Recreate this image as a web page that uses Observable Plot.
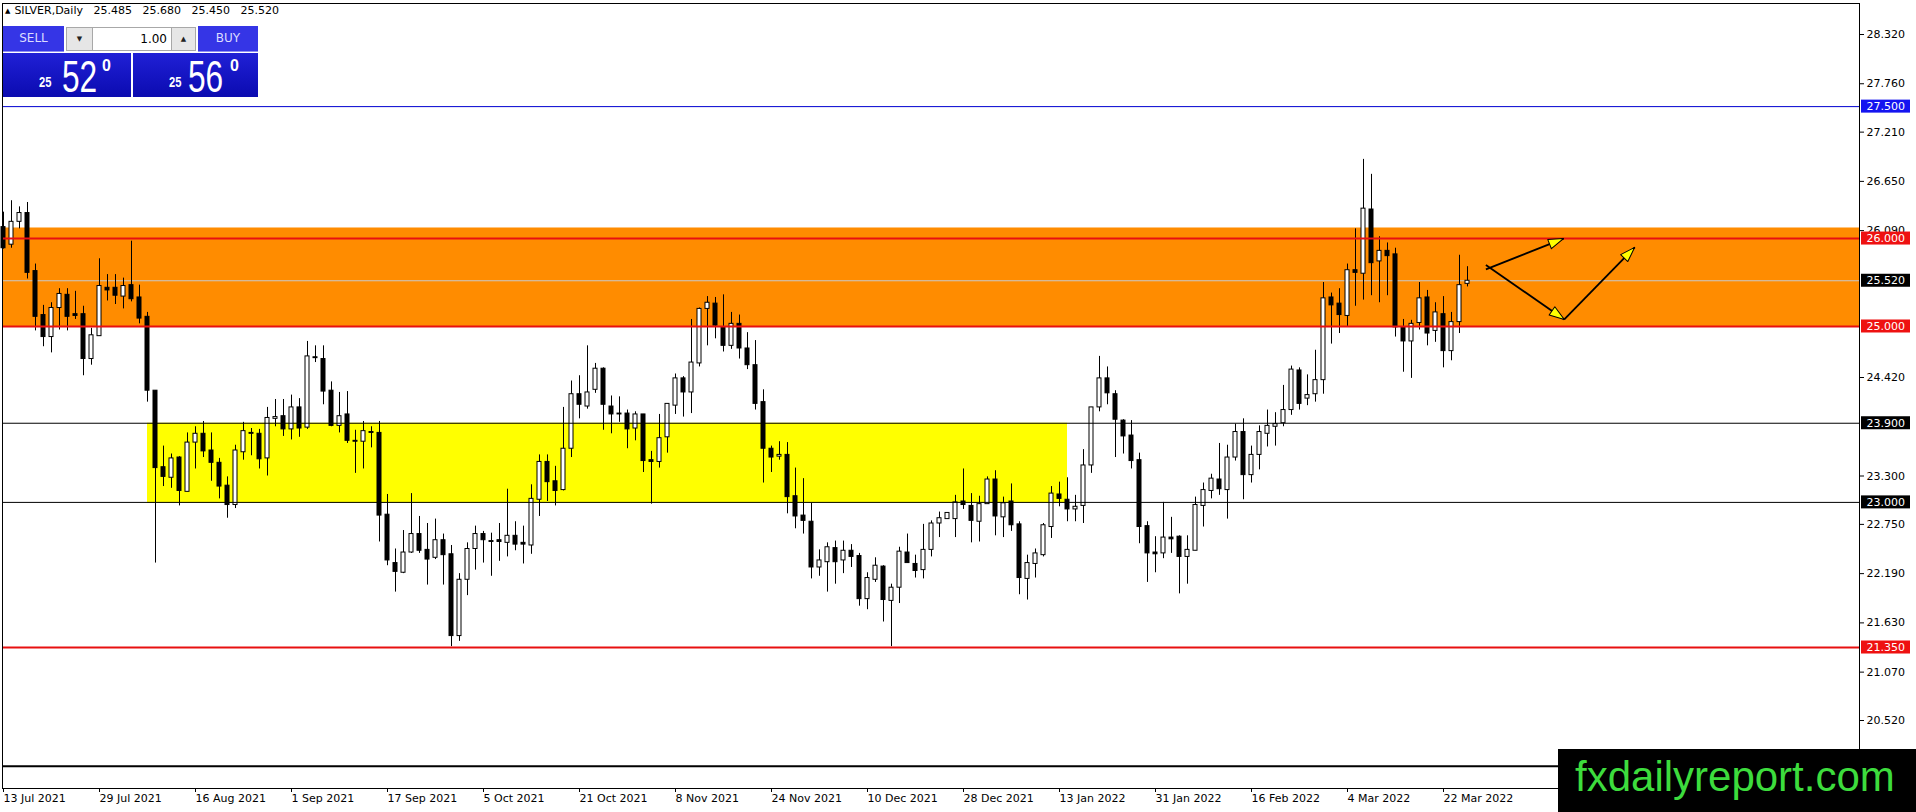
<!DOCTYPE html>
<html><head><meta charset="utf-8">
<script src="https://cdn.jsdelivr.net/npm/d3@7"></script>
<script src="https://cdn.jsdelivr.net/npm/@observablehq/plot@0.6"></script>
<style>
html,body{margin:0;padding:0;background:#fff;}
#wrap{position:relative;width:1916px;height:812px;overflow:hidden;font-family:"DejaVu Sans",sans-serif;}
#chart svg{display:block;}
.abs{position:absolute;}
.hdr{left:5px;top:4px;font-size:11px;line-height:13px;color:#000;word-spacing:7px;white-space:pre;}
.hdr .tri{font-size:7px;word-spacing:0;position:relative;top:-1px;margin-right:4px;}
.btn{top:26px;height:26px;background:#3535e6;color:#dcdcff;font-size:12px;line-height:25px;text-align:center;box-sizing:border-box;border-bottom:1px solid #8f8ff2;}
.spin{top:27px;height:24px;box-sizing:border-box;border:1px solid #a8a8a8;background:#e6e6e6;font-size:7px;line-height:22px;text-align:center;color:#222;}
.lot{top:27px;height:24px;box-sizing:border-box;border-top:1px solid #a8a8a8;border-bottom:1px solid #a8a8a8;background:#fff;font-size:12px;line-height:22px;text-align:right;padding-right:4px;color:#000;}
.box{top:53px;height:44px;background:linear-gradient(to bottom,#2020d6,#0b0bb0);}
.px{color:#fff;font-family:"Liberation Sans",Arial,sans-serif;line-height:1;white-space:pre;}
.small{font-size:14px;font-weight:bold;transform:scaleX(0.8);transform-origin:left top;}
.big{font-size:44px;transform:scaleX(0.72);transform-origin:left top;}
.sup{font-size:16px;font-weight:bold;}
.wm{left:1558px;top:749px;width:358px;height:63px;background:#000;}
.wm span{position:absolute;left:17px;top:0;font-family:"Liberation Sans",Arial,sans-serif;font-size:42px;line-height:55px;color:#3ddc3d;white-space:pre;}
</style></head><body>
<div id="wrap">
<div id="chart"></div>
<div class="abs hdr"><span class="tri">▲</span>SILVER,Daily 25.485 25.680 25.450 25.520</div>
<div class="abs btn" style="left:3px;width:61px;">SELL</div>
<div class="abs spin" style="left:66px;width:27px;">▼</div>
<div class="abs lot" style="left:93px;width:78px;">1.00</div>
<div class="abs spin" style="left:171px;width:25px;">▲</div>
<div class="abs btn" style="left:198px;width:60px;">BUY</div>
<div class="abs box" style="left:3px;width:128px;"></div>
<div class="abs box" style="left:133px;width:125px;"></div>
<div class="abs px small" style="left:39px;top:75px;">25</div>
<div class="abs px big" style="left:62px;top:55px;">52</div>
<div class="abs px sup" style="left:102px;top:58px;">0</div>
<div class="abs px small" style="left:169px;top:75px;">25</div>
<div class="abs px big" style="left:188px;top:55px;">56</div>
<div class="abs px sup" style="left:230px;top:58px;">0</div>
<div class="abs wm"><span>fxdailyreport.com</span></div>
</div>
<script>
// ---- data ----
const opens = [26.13,25.93,26.19,26.29,25.63,25.13,24.88,25.21,25.36,25.14,
25.14,24.63,24.89,25.44,25.44,25.34,25.47,25.33,25.11,24.27,
23.40,23.28,23.51,23.12,23.68,23.78,23.59,23.45,23.19,22.97,
23.57,23.79,23.78,23.50,23.95,23.98,23.83,24.08,23.85,24.65,
24.63,24.27,23.87,24.00,23.70,23.69,23.80,23.79,22.86,22.31,
22.20,22.43,22.64,22.46,22.37,22.57,22.41,21.48,22.12,22.47,
22.64,22.56,22.57,22.54,22.62,22.54,22.51,23.03,23.46,23.24,
23.14,23.61,24.23,24.09,24.28,24.52,24.09,24.01,24.01,23.84,
24.00,23.48,23.46,23.74,24.10,24.41,24.25,24.58,25.20,25.26,
24.99,24.78,25.03,24.75,24.56,24.14,23.61,23.52,23.54,23.07,
22.85,22.78,22.26,22.32,22.48,22.34,22.45,22.39,21.90,22.12,
22.27,21.88,22.03,22.43,22.30,22.23,22.46,22.76,22.81,22.81,
23.01,22.96,22.78,22.98,23.26,22.83,23.01,22.75,22.13,22.30,
22.40,22.72,23.09,23.03,22.92,22.96,23.42,24.08,24.41,24.23,
23.93,23.76,23.48,22.73,22.43,22.42,22.60,22.61,22.38,22.45,
22.96,23.13,23.26,23.14,23.51,23.80,23.31,23.54,23.78,23.86,
23.90,24.05,24.50,24.18,24.23,24.39,25.33,25.26,25.12,25.64,
25.60,26.33,25.74,25.86,25.82,24.99,24.83,25.04,25.33,24.95,
25.14,24.72,25.05,25.485];
const highs = [26.30,26.43,26.36,26.41,25.71,25.24,25.27,25.43,25.43,25.40,
25.23,24.98,25.77,25.59,25.59,25.55,25.97,25.47,25.16,24.27,
23.64,23.55,23.52,23.79,23.86,23.92,23.79,23.50,23.29,23.65,
23.91,23.84,23.83,24.08,24.17,24.17,24.22,24.18,24.83,24.78,
24.78,24.37,24.25,24.26,23.82,23.92,23.86,23.92,23.09,22.47,
22.68,23.10,22.84,22.76,22.81,22.64,22.51,22.19,22.54,22.73,
22.67,22.65,22.76,23.15,22.78,22.73,23.20,23.54,23.54,23.41,
24.08,24.38,24.44,24.78,24.58,24.53,24.21,24.20,24.05,24.03,
24.00,23.58,24.00,24.12,24.46,24.43,25.08,25.21,25.34,25.33,
25.36,25.16,25.13,24.93,24.84,24.28,23.64,23.69,23.68,23.39,
23.27,22.99,22.46,22.54,22.56,22.56,22.52,22.42,22.20,22.37,
22.28,22.07,22.49,22.64,22.40,22.75,22.79,22.89,22.88,23.08,
23.38,23.10,23.07,23.29,23.36,23.06,23.21,22.78,22.40,22.47,
22.76,23.18,23.23,23.28,23.08,23.60,24.08,24.66,24.54,24.27,
23.94,23.93,23.56,22.78,22.61,23.00,22.83,22.62,22.62,23.06,
23.22,23.32,23.67,23.65,23.89,23.95,23.64,23.87,24.05,24.02,
24.33,24.55,24.53,24.45,24.73,25.50,25.38,25.43,25.71,26.11,
26.90,26.73,26.02,25.95,25.89,25.08,25.07,25.50,25.41,25.27,
25.34,25.16,25.81,25.68];
const lows = [25.88,25.89,26.11,25.54,24.95,24.77,24.70,24.96,24.95,25.08,
24.44,24.56,24.89,25.29,25.25,25.20,25.28,25.03,24.14,22.31,
23.18,23.16,22.96,23.12,23.38,23.51,23.24,23.04,22.82,22.93,
23.48,23.53,23.38,23.30,23.86,23.75,23.71,23.74,23.83,24.59,
24.11,23.86,23.79,23.67,23.33,23.38,23.62,22.55,22.28,21.98,
22.19,22.42,22.42,22.06,22.35,22.06,21.36,21.42,21.94,22.23,
22.31,22.16,22.33,22.38,22.45,22.30,22.41,22.84,23.01,22.96,
23.13,23.51,23.95,24.06,24.24,23.82,23.78,23.91,23.61,23.70,
23.34,22.98,23.39,23.56,24.00,23.97,24.01,24.54,24.78,24.86,
24.71,24.74,24.63,24.51,24.05,23.22,23.34,23.48,22.87,22.70,
22.64,22.13,22.16,21.98,22.07,22.19,22.26,21.82,21.78,22.09,
21.64,21.36,21.85,22.31,22.14,22.13,22.38,22.60,22.81,22.60,
22.92,22.54,22.55,22.98,22.62,22.60,22.67,21.95,21.89,22.14,
22.38,22.59,22.95,22.78,22.78,22.76,23.33,24.03,24.11,23.51,
23.55,23.38,22.53,22.09,22.20,22.36,22.42,21.96,22.07,22.45,
22.72,23.04,23.08,22.81,23.47,23.03,23.22,23.37,23.63,23.64,
23.86,23.99,24.05,24.10,24.14,24.23,24.80,24.92,24.99,25.23,
25.30,25.35,25.27,25.35,24.88,24.48,24.41,24.96,24.78,24.82,
24.53,24.61,24.92,25.45];
const closes = [25.89,26.19,26.29,25.61,25.11,24.88,25.21,25.37,25.11,25.12,
24.63,24.90,25.46,25.41,25.35,25.46,25.31,25.09,24.27,23.39,
23.29,23.50,23.13,23.68,23.78,23.58,23.45,23.18,22.97,23.59,
23.81,23.78,23.49,23.96,23.97,23.83,24.08,23.84,24.66,24.64,
24.26,23.87,23.98,23.70,23.69,23.81,23.79,22.85,22.34,22.21,
22.43,22.64,22.45,22.35,22.57,22.40,21.48,22.12,22.47,22.64,
22.57,22.55,22.55,22.62,22.52,22.52,23.04,23.46,23.23,23.13,
23.61,24.23,24.11,24.25,24.52,24.11,24.00,24.00,23.83,24.00,
23.47,23.46,23.73,24.12,24.41,24.25,24.59,25.20,25.27,25.01,
24.78,25.03,24.75,24.56,24.12,23.61,23.51,23.54,23.06,22.84,
22.79,22.26,22.34,22.49,22.32,22.45,22.38,21.90,22.14,22.28,
21.89,22.03,22.44,22.31,22.22,22.46,22.76,22.82,22.88,23.00,
22.97,22.79,22.98,23.26,22.84,22.99,22.74,22.14,22.31,22.42,
22.74,23.10,23.04,22.92,22.95,23.42,24.08,24.41,24.24,23.94,
23.75,23.47,22.72,22.42,22.41,22.60,22.58,22.38,22.46,22.97,
23.14,23.27,23.15,23.51,23.80,23.31,23.54,23.80,23.87,23.89,
24.05,24.51,24.12,24.22,24.39,25.32,25.24,25.13,25.64,25.61,
26.34,25.72,25.86,25.80,24.99,24.83,25.03,25.32,24.92,25.16,
24.72,25.05,25.47,25.52];

const dateTickBars = [0,12,24,36,48,60,72,84,96,108,120,132,144,156,168,180];
const dateTickLabels = ["13 Jul 2021","29 Jul 2021","16 Aug 2021","1 Sep 2021","17 Sep 2021","5 Oct 2021","21 Oct 2021","8 Nov 2021","24 Nov 2021","10 Dec 2021","28 Dec 2021","13 Jan 2022","31 Jan 2022","16 Feb 2022","4 Mar 2022","22 Mar 2022"];
const priceTicks = [28.32,27.76,27.21,26.65,26.09,24.42,23.30,22.75,22.19,21.63,21.07,20.52];

const levelPrices = [27.5, 26.0, 25.52, 25.0, 23.9, 23.0, 21.35, 20.0];
const levelLineColors = ["#0000d0","#e81010","#c8c8c8","#e81010","#000000","#000000","#e81010","#000000"];
const levelLineWidths = [1, 2, 1, 2, 1, 1, 2, 2];
const levelLabelColors = ["#1414f0","#ee1111","#000000","#ee1111","#000000","#000000","#ee1111",null];

const zoneLow = [25.0, 22.99];
const zoneHigh = [26.12, 23.9];
const zoneStartBar = [null, 18];
const zoneEndBar = [null, 133];
const zoneColors = ["#ff8c00", "#ffff00"];

const arrowFromBar = [185.3, 185.3, 195.1];
const arrowFromPrice = [25.65, 25.70, 25.08];
const arrowToBar = [195.0, 195.1, 203.9];
const arrowToPrice = [26.00, 25.08, 25.90];

// ---- layout ----
const W = 1916, H = 812, mL = 2, mR = 57, mT = 3, mB = 24;
const xDomain = [-0.125, 232];
const yDomain = [19.7469, 28.6725];
const kx = (W - mR - mL) / (xDomain[1] - xDomain[0]);
const ky = (H - mB - mT) / (yDomain[1] - yDomain[0]);

const candles = opens.map((o, i) => ({i, o, h: highs[i], l: lows[i], c: closes[i], up: closes[i] >= o}));
const zones = zoneLow.map((lo, k) => ({lo, hi: zoneHigh[k], s: zoneStartBar[k] ?? xDomain[0], e: zoneEndBar[k] ?? xDomain[1], color: zoneColors[k]}));
const levels = levelPrices.map((p, k) => ({p, line: levelLineColors[k], w: levelLineWidths[k], bg: levelLabelColors[k]}));
const arrows = arrowFromBar.map((x1, k) => {
  const x2 = arrowToBar[k], y1 = arrowFromPrice[k], y2 = arrowToPrice[k];
  const ang = Math.atan2((x2 - x1) * kx, (y2 - y1) * ky) * 180 / Math.PI;
  return {x1, y1, x2, y2, ang};
});

const headShape = {draw(ctx, l, r) { ctx.moveTo(0, -l); ctx.lineTo(-r, 0); ctx.lineTo(r, 0); ctx.closePath(); }};

const bgLevels = levels.filter(d => d.line === "#c8c8c8");
const fgLevels = levels.filter(d => d.line !== "#c8c8c8");
const labeled = levels.filter(d => d.bg);

const marks = [
  ...zones.map(z => Plot.rect([z], {x1: "s", x2: "e", y1: "lo", y2: "hi", fill: z.color})),
  ...bgLevels.map(d => Plot.ruleY([d.p], {stroke: d.line, strokeWidth: d.w})),
  Plot.ruleX(candles, {x: "i", y1: "l", y2: "h", stroke: "black", strokeWidth: 1}),
  Plot.rect(candles, {x1: d => d.i - 0.25, x2: d => d.i + 0.25, y1: "o", y2: "c", fill: d => d.up ? "white" : "black", stroke: "black", strokeWidth: 1}),
  ...fgLevels.map(d => Plot.ruleY([d.p], {stroke: d.line, strokeWidth: d.w})),
  Plot.link(arrows, {x1: "x1", y1: "y1", x2: "x2", y2: "y2", stroke: "black", strokeWidth: 1.8}),
  Plot.vector(arrows, {x: "x2", y: "y2", rotate: "ang", length: 15, r: 5, anchor: "end", shape: headShape, fill: "#ffff00", stroke: "black", strokeWidth: 1}),
  Plot.frame({stroke: "black"}),
  Plot.axisY(priceTicks, {anchor: "right", tickSize: 4, tickPadding: 3, tickFormat: d => d.toFixed(3), label: null, fontSize: 11}),
  Plot.axisX(dateTickBars, {anchor: "bottom", tickSize: 4, tickPadding: 2, tickFormat: d => dateTickLabels[dateTickBars.indexOf(d)], textAnchor: "start", label: null, fontSize: 11}),
  ...labeled.map(d => Plot.rect([d.p], {x1: () => xDomain[1], x2: () => xDomain[1], y1: v => v, y2: v => v, insetLeft: 2, insetRight: -51, insetTop: -6.5, insetBottom: -6.5, fill: d.bg})),
  ...labeled.map(d => Plot.text([d.p], {x: () => xDomain[1], y: v => v, text: v => v.toFixed(3), dx: 7, textAnchor: "start", fill: "white", fontSize: 11}))
];

const chart = Plot.plot({
  width: W, height: H,
  marginLeft: mL, marginRight: mR, marginTop: mT, marginBottom: mB,
  x: {type: "linear", domain: xDomain},
  y: {type: "linear", domain: yDomain},
  style: {fontFamily: "DejaVu Sans, sans-serif", fontSize: "11px", background: "white", color: "black", overflow: "visible"},
  marks
});
document.getElementById("chart").appendChild(chart);
</script>
</body></html>
